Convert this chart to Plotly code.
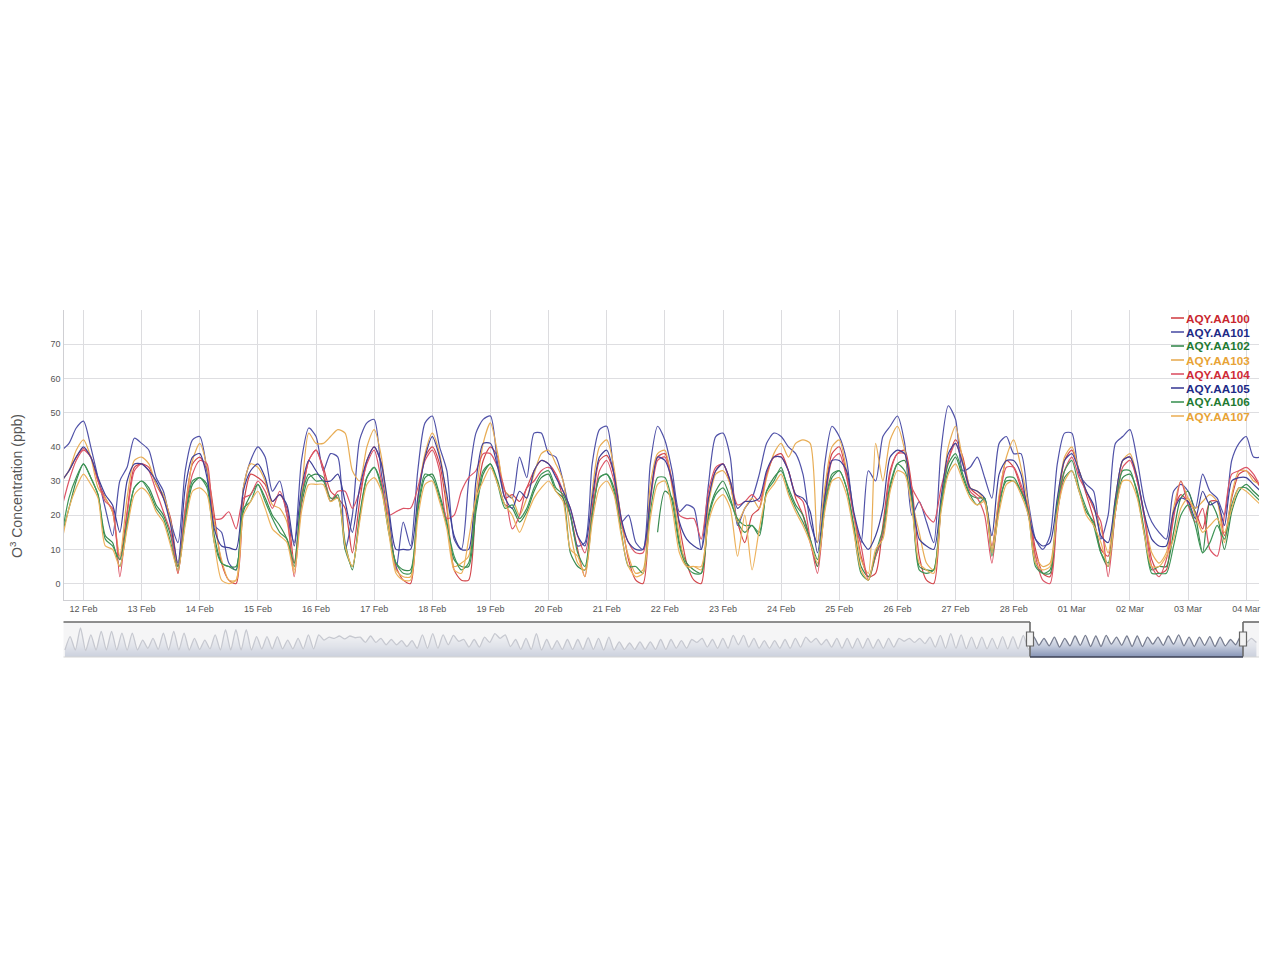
import pandas as pd
import plotly.graph_objects as go

# ---- main chart data: 3-hourly ppb readings, one row per daily cycle ----
aa100 = [
30,33,37,39.5,37,30,25,21,
7,21,34,35,34,29,25,19,
5,22,35,37,33,20,6,1,
0,23,32,31,29,24,26,22,
6,25,36,39,34,27,25,22,
9,24,36,40,35,19,5,1,
0,24,37,40,35,22,4,1,
1,23,36,40,37,25,26,24,
28,33,36,35,32,25,20,10,
2,22,36,37.5,32,19,7,1,
0,25,37,38,30,17,6,1,
0,24,33,35,29,18,12,20,
22,32,37,38,33,25,20,12,
5,26,38,40,32,20,8,2,
3,17,33,38,39,28,8,1,
0,23,36,42,37,28,26,24,
11,25,36,34,28,22,10,3,
2,22,36,39,33,26,19,10,
8,24,36,37,30,20,7,3,
4,21,26,24,21,16,24,24,
14,25,32,33,31,28]
aa101 = [
39,41,45.5,47.5,40,31,22,14,
30,34,42.5,41,39,31,27,18,
12,33,42,43,33,17,15,6,
4,28,36,40,37,27,30,20,
12,36,45.5,43,33,38,37,10,
20,42,47,48,32,20,4,18,
11,33,47,49,40,33,13,10,
30,44,48,49,35,27,25,37,
31,44,44,38,37,30,20,11,
12,35,45,46,32,18,20,12,
10,35,46,42,33,21,23,22,
10,29,43,44,37,17,22,25,
32,41,44,43,40,38,32,18,
12,35,46,43,36,20,12,33,
30,43,46,49,41,20,24,18,
12,39,52,48,33,34,37,31,
25,41,43,38,38,24,13,10,
14,35,44,44,32,29,27,13,
20,41,43,45,36,24,18,15,
13,27,29,27,22,32,27,25,
20,36,41,43,37,37]
aa102 = [
14,22,30,35,31,26,14,12,
5,17,28,30,28,23,20,14,
5,18,29,31,29,14,6,5,
5,21,26,29,25,20,17,13,
5,23,31,32,31,25,25,12,
4,20,31,34,29,16,6,4,
4,21,31,32,26,18,7,5,
5,21,32,35,30,23,22,18,
21,27,31,32,27,25,9,5,
4,20,31,32,28,16,None,None,
None,None,15,27,25,12,6,4,
3,20,27,30,25,18,15,17,
14,27,31,33,28,23,20,13,
5,22,31,33,28,17,5,2,
8,14,28,35,36,26,5,4,
4,22,33,37,31,26,25,25,
9,24,30,30,27,22,6,3,
3,21,31,33,27,21,18,9,
5,21,31,32,27,15,4,5,
5,15,25,27,20,9,24,20,
10,21,27,29,27,25]
aa103 = [
30,33,39,42,37,28,25,21,
8,25,36,37,35,29,26,18,
3,21,36,41,34,18,7,1,
1,28,35,34,30,23,22,18,
4,26,44,41,41,43,45,44,
33,30,40,45,37,18,4,2,
2,25,38,44,38,24,5,6,
8,26,41,47,38,27,25,20,
25,32,38,39,35,30,15,6,
4,27,40,42,34,18,8,3,
4,29,38,39,28,14,5,5,
4,23,32,33,29,18,22,25,
22,31,38,41,37,41,42,41,
12,28,40,42,33,20,7,3,
41,30,42,46,39,24,15,6,
4,24,40,46,36,28,27,24,
10,26,37,42,34,23,8,5,
6,24,37,40,33,27,22,16,
9,25,36,38,31,19,9,6,
9,22,30,25,22,24,26,24,
12,26,33,33,30,29]
aa104 = [
22,30,36,39,37,30,24,22,
2,20,33,35,33,27,21,15,
3,21,32,36,35,19,19,21,
16,25,26,30,27,22,27,20,
2,24,36,39,33,24,27,27,
22,27,35,39,30,20,21,22,
22,28,36,39,33,19,20,27,
31,33,38,38,34,27,16,20,
28,30,33,34,32,27,22,14,
9,20,33,36,30,18,12,9,
9,24,36,37,29,20,19,19,
13,27,34,35,30,23,24,26,
24,32,37,37,33,26,24,13,
3,23,36,38,31,20,11,1,
8,15,32,38,38,28,24,20,
18,28,36,41,35,27,25,20,
6,24,34,34,29,22,8,1,
0,20,33,37,31,27,22,18,
2,21,34,36,30,19,5,2,
7,19,30,23,18,22,10,8,
20,32,33,34,32,28]
aa105 = [
30,33,37,40,37,31,26,23,
15,30,35,35,33,30,25,17,
6,28,37,38,31,16,11,10.5,
10,27,33,35,31,24,26,23,
11,28,36,33,30,30,32,24,
15,28,36,40,35,22,10,10,
10,25,37,43,37,26,14,10,
10,30,41,41,34,25,22,27,
25,33,36,35,31,27,22,14,
11,25,37,39,32,19,12,10,
10,25,37,36,30,18,13,11,
10,25,33,35,30,22,24,24,
25,33,37,37,33,26,25,21,
9,25,36,36,33,21,13,10,
14,22,37,39,38,25,13,11,
10,25,38,41,35,28,27,25,
14,32,36,36,32,20,13,11,
12,25,36,38,33,27,23,14,
12,25,36,37,31,20,13,11,
11,21,25,24,19,27,23,24,
17,30,31,31,29,27]
aa106 = [
14,25,31,35,31,26,13,11,
7,18,28,30,27,22,19,12,
4,19,30,31,28,12,6,5,
4,22,24,29,24,19,15,13,
6,25,32,30,30,24,26,10,
5,19,31,34,28,15,6,3,
3,22,32,31,25,17,8,4,
6,23,33,35,29,22,23,19,
22,28,32,33,28,26,20,9,
5,20,31,32,27,15,5,5,
3,21,31,31,24,11,5,3,
3,19,26,28,24,19,17,17,
15,27,30,34,27,22,18,13,
7,23,32,33,28,16,3,1,
9,16,29,35,33,24,4,3,
4,23,35,38,32,26,23,25,
8,22,31,31,27,21,5,3,
4,23,33,36,28,22,17,9,
6,23,33,33,26,14,3,3,
3,11,20,23,17,9,12,17,
13,23,28,28,26,24]
aa107 = [
12,22,28,32,29,25,11,10,
5,16,26,28,26,21,18,11,
4,17,27,28,26,12,1,0,
1,20,24,27,22,16,14,12,
3,21,29,29,29,24,25,11,
5,18,29,31,27,15,3,1,
1,19,29,30,24,16,4,3,
13,25,30,34,29,23,20,15,
20,25,28,30,27,24,10,8,
2,18,28,30,26,14,5,2,
3,19,29,30,22,9,5,5,
5,18,24,26,22,8,20,4,
16,26,29,32,26,21,17,12,
6,21,30,31,26,15,4,1,
10,13,27,33,32,22,6,4,
3,21,32,35,30,25,23,24,
9,21,29,30,26,20,6,4,
5,21,30,33,27,20,17,12,
5,21,30,30,25,14,5,5,
8,13,22,25,20,15,17,19,
15,22,28,27,25,23]

series_names = ["AQY.AA100", "AQY.AA101", "AQY.AA102", "AQY.AA103",
                "AQY.AA104", "AQY.AA105", "AQY.AA106", "AQY.AA107"]
series_values = [aa100, aa101, aa102, aa103, aa104, aa105, aa106, aa107]
line_colors = ["#d2454a", "#5052a8", "#37894e", "#e8ad55",
               "#dc5466", "#3f4098", "#3f9557", "#edb25c"]
label_colors = ["#c9262e", "#1d2a86", "#1f7a32", "#e8a335",
                "#cf2a36", "#1d2a86", "#1f7a32", "#e8a335"]

# ---- navigator overview data: daily peak and following trough ----
nav_first = 12
nav_peaks = [35,50,38,44,44,41,41,29,32,41,44,41,32,29,38,47,47,47,35,35,35,29,32,38,38,34,36,36,34,
             36,32,30,28,28,38,40,38,37,30,30,34,40,38,30,32,40,30,28,30,30,33,32,34,26,24,26,26,30,
             30,28,30,32,30,32,37,37,32,28,28,30,32,34,32,30,32,32,32,32,30,32,32,32,32,34,37,40,38,
             34,34,32,35,35,37,
             35,32,34,32,36,37,36,37,34,36,36,34,34,36,38,34,34,35,34,30,36,
             32]
nav_troughs = [12,11,12,12,12,12,12,15,13,12,12,12,13,14,12,12,12,12,14,14,14,14,14,14,29,32,31,33,25,
               25,21,21,18,15,15,15,21,27,17,17,25,32,18,13,13,12,13,13,13,13,13,12,12,13,13,13,13,13,
               15,15,25,17,15,15,21,17,15,15,15,15,17,25,21,17,15,15,15,15,15,17,27,25,23,17,15,15,14,
               14,14,14,14,14,13,
               20,19,17,19,20,18,18,22,20,18,18,22,20,22,19,18,20,18,19,21,24,
               25]

W, H = 1280, 962
PL, PR, PT, PB = 63.5, 1259, 310, 600      # main plot box in pixels
NT, NB = 622, 657                          # navigator box
SEL_L, SEL_R = 1030, 1243                  # selected window in the navigator
px = lambda v: v / W
py = lambda v: 1 - v / H

times = pd.date_range("2014-02-11 15:00", periods=len(aa100), freq="3h")

fig = go.Figure()
for name, vals, col in zip(series_names, series_values, line_colors):
    fig.add_trace(go.Scatter(x=times, y=vals, name=name, mode="lines",
                             line=dict(color=col, width=1.2, shape="spline", smoothing=0.7),
                             connectgaps=False, xaxis="x", yaxis="y", showlegend=False))

nav_values = [nav_first]
for p, t in zip(nav_peaks, nav_troughs):
    nav_values += [p, t]
nav_times = pd.date_range("2013-11-10 12:00", periods=len(nav_values), freq="12h")
fig.add_trace(go.Scatter(
    x=nav_times, y=nav_values, mode="lines", xaxis="x2", yaxis="y2", showlegend=False,
    name="overview", line=dict(color="#777d90", width=1.3, shape="spline", smoothing=0.6),
    fill="tozeroy",
    fillgradient=dict(type="vertical",
                      colorscale=[[0, "#8593b5"], [0.35, "#c0c8da"], [0.7, "#eceef3"], [1, "#f6f6f8"]])))

shapes = []
# dimming masks outside the selected window
mask = dict(type="rect", xref="paper", yref="paper", y0=py(NB), y1=py(NT),
            fillcolor="rgba(240,240,242,0.66)", line_width=0, layer="above")
shapes.append(dict(mask, x0=px(PL), x1=px(SEL_L)))
shapes.append(dict(mask, x0=px(SEL_R), x1=px(PR)))
# navigator outline
edge = dict(type="line", xref="paper", yref="paper", layer="above")
dark = dict(color="#6a6a6a", width=1.6)
navy = dict(color="#3c4254", width=1.6)
shapes += [
    dict(edge, x0=px(PL), x1=px(SEL_L), y0=py(NT), y1=py(NT), line=dark),
    dict(edge, x0=px(SEL_R), x1=px(PR), y0=py(NT), y1=py(NT), line=dark),
    dict(edge, x0=px(SEL_L), x1=px(SEL_L), y0=py(NT), y1=py(NB), line=dark),
    dict(edge, x0=px(SEL_R), x1=px(SEL_R), y0=py(NT), y1=py(NB), line=dark),
    dict(edge, x0=px(SEL_L), x1=px(SEL_R), y0=py(NB), y1=py(NB), line=navy),
    dict(edge, x0=px(PL), x1=px(SEL_L), y0=py(NB), y1=py(NB), line=dict(color="#d4d4d4", width=1)),
    dict(edge, x0=px(SEL_R), x1=px(PR), y0=py(NB), y1=py(NB), line=dict(color="#d4d4d4", width=1)),
]
# navigator handles
for hx in (SEL_L, SEL_R):
    shapes.append(dict(type="rect", xref="paper", yref="paper", layer="above",
                       x0=px(hx - 3.5), x1=px(hx + 3.5), y0=py(646), y1=py(632),
                       fillcolor="#f2f2f2", line=dict(color="#666", width=1.2)))

annotations = [dict(text="O<sup>3</sup> Concentration (ppb)", textangle=-90, showarrow=False,
                    xref="paper", yref="paper", x=px(16), y=py(486),
                    xanchor="center", yanchor="middle",
                    font=dict(family="Liberation Sans", size=14, color="#555"))]
# legend (native legend rows cannot be this tight)
for i, (name, lc, tc) in enumerate(zip(series_names, line_colors, label_colors)):
    yy = 318 + 14 * i
    shapes.append(dict(type="line", xref="paper", yref="paper", layer="above",
                       x0=px(1171), x1=px(1184), y0=py(yy), y1=py(yy),
                       line=dict(color=lc, width=1.6)))
    annotations.append(dict(text=f"<b>{name}</b>", showarrow=False, xref="paper", yref="paper",
                            x=px(1184), y=py(yy), xanchor="left", yanchor="middle",
                            font=dict(family="Liberation Sans", size=11.7, color=tc)))

tickfont = dict(family="Liberation Sans", size=9, color="#555")
fig.update_layout(
    width=W, height=H, autosize=False, margin=dict(l=0, r=0, t=0, b=0),
    paper_bgcolor="white", plot_bgcolor="white", hovermode=False,
    shapes=shapes, annotations=annotations,
    xaxis=dict(domain=[px(PL), px(PR)], anchor="y", type="date",
               range=["2014-02-11 15:45", "2014-03-04 05:16"],
               tick0="2014-02-12", dtick=86400000, tickformat="%d %b", ticks="", tickfont=tickfont,
               showgrid=True, gridcolor="#dcdcdf", gridwidth=1.4,
               showline=True, linecolor="#cfcfd3", linewidth=1.4, zeroline=False),
    yaxis=dict(domain=[py(PB), py(PT)], anchor="x", range=[-4.8, 80],
               tickvals=[0, 10, 20, 30, 40, 50, 60, 70], ticks="", tickfont=tickfont,
               showgrid=True, gridcolor="#dedee1", gridwidth=1.4, zeroline=False,
               showline=True, linecolor="#cfcfd3", linewidth=1.4),
    xaxis2=dict(domain=[px(PL), px(PR)], anchor="y2", type="date",
                range=["2013-11-10 08:38", "2014-03-05 18:00"],
                showticklabels=False, ticks="", showgrid=False, zeroline=False, showline=False),
    yaxis2=dict(domain=[py(NB), py(NT)], anchor="x2", range=[0, 60],
                showticklabels=False, ticks="", showgrid=False, zeroline=False, showline=False),
)

fig.write_html("out.html", config=dict(displayModeBar=False),
               post_script="document.body.style.margin='0';document.body.style.overflow='hidden';")
